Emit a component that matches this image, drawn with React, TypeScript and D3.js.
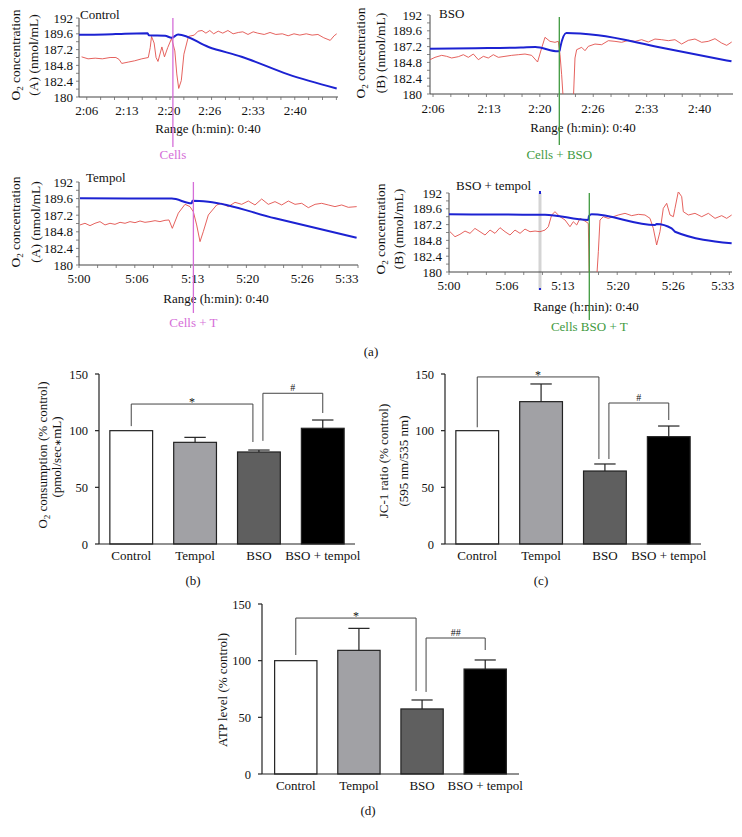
import React from "react";
import * as d3 from "d3";

const FONT = "'Liberation Serif','Times New Roman',serif";

// ---------- panel (a) : O2 traces ----------
const o2TickValues = [180, 182.4, 184.8, 187.2, 189.6, 192];
const timeLabelsEarly = ["2:06", "2:13", "2:20", "2:26", "2:33", "2:40"];
const timeLabelsLate = ["5:00", "5:06", "5:13", "5:20", "5:26", "5:33"];
const ctrlTickTimes = [1.2, 7.4, 13.9, 20.2, 26.9, 33.4];
const bsoTickTimes = [0.4, 7.8, 14.5, 21.5, 28.6, 35.6];
const tempolTickTimes = [0, 8.3, 16.3, 24.2, 32.0, 38.4];
const bsoTTickTimes = [0, 8.2, 16.1, 23.9, 31.7, 38.7];

type P = [number, number];

const ctrlBlue: P[] = [[0, 189.46], [4, 189.5], [7.1, 189.62], [10.6, 189.67], [10.8, 189.37], [13.3, 189.3], [14.3, 189.0], [15.3, 189.5], [20, 187.6], [25.1, 186.12], [32.3, 183.44], [39.8, 181.3]];
const ctrlRed: P[] = [[0.4, 186.1], [1.4, 185.8], [2.5, 185.9], [3.6, 185.8], [4.8, 186.0], [5.7, 186.0], [6.2, 185.7], [6.6, 185.1], [7.6, 185.3], [8.6, 185.5], [9.7, 185.8], [10.7, 186.0], [11.0, 187.5], [11.2, 189.2], [11.6, 188.2], [11.9, 186.0], [12.2, 185.4], [12.8, 187.6], [13.2, 186.1], [13.7, 187.5], [14.3, 188.9], [14.8, 187.0], [15.1, 183.5], [15.4, 181.3], [15.8, 182.5], [16.2, 186.5], [16.9, 189.2], [17.8, 189.4], [18.4, 190.0], [19.0, 190.1], [19.6, 189.7], [20.2, 190.1], [20.8, 189.6], [21.5, 190.0], [22.2, 189.7], [23.0, 190.1], [23.8, 189.6], [24.6, 189.8], [25.3, 189.9], [26.1, 189.5], [26.9, 189.9], [27.6, 189.7], [28.6, 189.5], [29.5, 189.8], [30.4, 189.5], [31.4, 189.6], [32.3, 189.3], [33.2, 189.6], [34.1, 189.4], [35.1, 189.6], [36.0, 189.4], [36.9, 189.5], [37.8, 189.0], [38.8, 188.6], [39.4, 189.3], [39.8, 189.6]];

const bsoBlue: P[] = [[0, 186.88], [6, 186.95], [12, 187.05], [13.9, 187.14], [16.9, 186.48], [17.1, 186.55], [17.2, 187.1], [18.0, 189.26], [22.2, 188.91], [30.1, 187.15], [39.8, 184.96]];
const bsoRed: P[] = [[0, 185.21], [0.66, 185.57], [1.54, 185.87], [2.2, 185.72], [2.86, 185.47], [3.74, 185.67], [4.4, 185.97], [5.06, 185.57], [5.72, 186.07], [6.38, 185.21], [7.04, 185.72], [7.7, 185.47], [8.36, 185.97], [9.02, 185.57], [9.9, 185.72], [10.78, 185.87], [11.66, 185.97], [12.54, 186.07], [13.42, 185.87], [14.2, 184.86], [14.74, 186.98], [15.18, 188.61], [15.84, 188.0], [16.5, 187.85], [16.94, 188.0], [17.16, 186.0], [17.38, 182.93], [17.6, 179], [18.92, 179], [19.14, 185.47], [19.36, 186.73], [20.02, 187.09], [20.46, 186.58], [20.9, 187.24], [21.78, 187.59], [22.66, 187.49], [23.54, 188.1], [24.42, 188.0], [25.3, 187.85], [26.18, 188.15], [27.06, 188.0], [27.94, 188.25], [28.82, 187.9], [29.7, 188.35], [30.58, 188.25], [31.46, 188.1], [32.34, 188.25], [33.22, 187.59], [34.1, 188.15], [34.98, 188.35], [35.86, 187.85], [36.74, 188.0], [37.62, 188.4], [38.5, 187.74], [39.17, 187.39], [39.83, 187.9]];

const tempolBlue: P[] = [[0.14, 189.64], [7, 189.62], [13.3, 189.6], [16.16, 188.92], [16.27, 189.3], [18.54, 189.15], [28.1, 186.75], [39.8, 183.95]];
const tempolRed: P[] = [[0.14, 185.79], [0.86, 186.03], [1.58, 185.69], [2.29, 186.03], [3.01, 186.27], [3.73, 185.79], [4.44, 186.03], [5.16, 185.88], [5.88, 186.17], [6.6, 186.03], [7.31, 186.27], [8.03, 186.12], [8.75, 186.36], [9.46, 186.17], [10.18, 186.27], [10.9, 186.41], [11.61, 186.27], [12.33, 186.46], [12.9, 186.51], [13.38, 185.3], [14.24, 187.5], [15.2, 188.77], [15.91, 188.44], [16.39, 187.71], [16.87, 185.79], [17.35, 183.38], [17.82, 184.82], [18.54, 187.23], [19.74, 188.68], [20.46, 188.92], [21.4, 188.44], [22.37, 189.06], [23.32, 188.77], [24.27, 189.25], [25.23, 188.68], [26.19, 189.54], [27.14, 188.77], [28.1, 189.16], [29.06, 188.68], [30.01, 189.25], [30.97, 188.77], [31.93, 188.92], [32.88, 188.29], [33.84, 188.77], [34.79, 188.92], [35.74, 188.68], [36.7, 188.44], [37.66, 188.68], [38.61, 188.34], [39.81, 188.44]];

const bsoTBlue: P[] = [[0, 188.76], [7, 188.72], [13.57, 188.7], [19.69, 187.9], [19.78, 188.5], [20.17, 188.76], [29.12, 187.14], [29.35, 187.3], [31.47, 186.63], [31.94, 186.12], [39.95, 184.35]];
const bsoTRed: P[] = [[0.14, 186.12], [0.85, 185.36], [1.55, 185.72], [2.26, 186.22], [2.97, 185.87], [3.67, 186.62], [4.38, 186.12], [5.09, 185.62], [5.8, 186.37], [6.5, 185.87], [7.21, 186.73], [7.92, 186.12], [8.62, 185.62], [9.33, 186.37], [10.04, 185.87], [10.74, 186.52], [11.45, 186.12], [12.16, 186.22], [12.86, 186.12], [13.57, 186.37], [14.04, 186.88], [14.51, 188.66], [14.98, 189.16], [15.69, 188.4], [16.4, 187.9], [17.1, 186.88], [17.57, 187.64], [18.05, 187.14], [18.52, 188.15], [19.22, 187.74], [19.69, 187.39], [19.83, 179], [20.87, 179], [21.11, 183.08], [21.34, 187.9], [21.81, 188.4], [22.52, 188.15], [23.23, 188.4], [23.93, 188.66], [24.88, 188.91], [25.82, 188.56], [26.76, 188.76], [27.7, 188.66], [28.41, 188.15], [28.88, 186.62], [29.35, 184.1], [29.82, 186.12], [30.29, 189.67], [30.77, 190.43], [31.24, 188.66], [31.71, 188.4], [31.94, 189.67], [32.41, 192.2], [32.89, 191.44], [33.12, 189.16], [33.83, 188.66], [34.77, 188.91], [35.72, 188.4], [36.66, 188.91], [37.6, 188.15], [38.54, 188.56], [39.25, 188.15], [39.95, 188.66]];

// ---------- bar panels ----------
const barCategories = ["Control", "Tempol", "BSO", "BSO + tempol"];
const barTicks = [0, 50, 100, 150];
const o2ConsMean = [100, 89.7, 81.2, 102.1];
const o2ConsErr = [0, 4.4, 1.7, 7.3];
const jc1Mean = [100, 125.6, 64.4, 94.7];
const jc1Err = [0, 15.6, 6.2, 9.4];
const atpMean = [100, 109.1, 57.4, 92.6];
const atpErr = [0, 19.4, 7.9, 8.0];

type Bracket = { from: number; to: number; top: number; leftEnd: number; rightEnd: number; label: string };
const bracketsB: Bracket[] = [
  { from: 0, to: 2, top: 123.5, leftEnd: 104, rightEnd: 90, label: "*" },
  { from: 2, to: 3, top: 133, leftEnd: 91, rightEnd: 115.6, label: "#" },
];
const bracketsC: Bracket[] = [
  { from: 0, to: 2, top: 147.4, leftEnd: 103, rightEnd: 75, label: "*" },
  { from: 2, to: 3, top: 124.4, leftEnd: 75, rightEnd: 109.4, label: "#" },
];
const bracketsD: Bracket[] = [
  { from: 0, to: 2, top: 137.6, leftEnd: 105, rightEnd: 73.2, label: "*" },
  { from: 2, to: 3, top: 120, leftEnd: 72.4, rightEnd: 109.4, label: "##" },
];

const barFills = ["#ffffff", "#a1a1a5", "#5f5f5f", "#000000"];
const BLUE = "#1c22d2";
const RED = "#e2504c";
const MAGENTA = "#d56ed8";
const GREEN = "#3f9a3f";

function O2Label({ x, y, text }: { x: number; y: number; text: string }) {
  return (
    <text transform={`translate(${x},${y}) rotate(-90)`} textAnchor="middle" fontSize={13.5}>
      O<tspan fontSize={9} dy={3}>2</tspan>
      <tspan dy={-3}>{" " + text}</tspan>
    </text>
  );
}

type TraceProps = {
  id: string;
  left: number; right: number; top: number; bottom: number;
  title: string; titleX: number; titleY: number;
  yLab1X: number; yLab2X: number; yLabY: number; yLab2: string;
  tickTimes: number[]; tickLabels: string[]; tickLabelY: number; yLabelRight: number;
  blue: P[]; red: P[];
  markerT: number; markerColor: string; markerTop: number; markerBottom: number;
  markerLabel: string; markerLabelY: number;
  rangeX: number; rangeY: number;
  grayT?: number; grayBottom?: number;
};

function TracePanel(p: TraceProps) {
  const x = d3.scaleLinear().domain([0, 40]).range([p.left, p.right]);
  const y = d3.scaleLinear().domain([180, 192]).range([p.bottom, p.top]);
  const line = d3.line<P>().x((d) => x(d[0])).y((d) => y(d[1]));
  const blueLine = d3.line<P>().x((d) => x(d[0])).y((d) => y(d[1])).curve(d3.curveMonotoneX);
  const clipId = `clip-${p.id}`;
  const step = (p.tickTimes[4] - p.tickTimes[0]) / 12;
  const minor: number[] = [];
  for (let t = p.tickTimes[0] % step; t <= 40.01; t += step) minor.push(t);
  const yMinor = d3.range(11).map((i) => 180 + i * 1.2);
  const mx = x(p.markerT);
  return (
    <g>
      <defs>
        <clipPath id={clipId}>
          <rect x={p.left} y={p.top - 1} width={p.right - p.left} height={p.bottom - p.top + 1} />
        </clipPath>
      </defs>
      {p.grayT !== undefined && (
        <g>
          <rect x={x(p.grayT) - 1.5} y={p.top} width={3} height={(p.grayBottom ?? p.bottom) - p.top} fill="#d4d4d4" />
          <rect x={x(p.grayT) - 1} y={p.top - 2} width={2} height={3} fill={BLUE} />
          <rect x={x(p.grayT) - 1} y={(p.grayBottom ?? p.bottom) - 2} width={2} height={2} fill={BLUE} />
        </g>
      )}
      <line x1={p.left} x2={p.left} y1={p.top} y2={p.bottom} stroke="#444" strokeWidth={1} />
      <line x1={p.left} x2={p.right} y1={p.bottom} y2={p.bottom} stroke="#444" strokeWidth={1} />
      {yMinor.map((v, i) => (
        <line key={"ym" + i} x1={p.left - 3} x2={p.left} y1={y(v)} y2={y(v)} stroke="#666" strokeWidth={0.8} />
      ))}
      {minor.map((t, i) => (
        <line key={"xm" + i} x1={x(t)} x2={x(t)} y1={p.bottom} y2={p.bottom + 3} stroke="#666" strokeWidth={0.8} />
      ))}
      {o2TickValues.map((v) => (
        <text key={"yl" + v} x={p.yLabelRight} y={y(v) + 4.5} textAnchor="end" fontSize={13}>
          {v}
        </text>
      ))}
      {p.tickTimes.map((t, i) => (
        <text key={"xl" + i} x={x(t)} y={p.tickLabelY} textAnchor="middle" fontSize={13}>
          {p.tickLabels[i]}
        </text>
      ))}
      <g clipPath={`url(#${clipId})`}>
        <path d={line(p.red) ?? ""} fill="none" stroke={RED} strokeWidth={0.9} />
        <path d={blueLine(p.blue) ?? ""} fill="none" stroke={BLUE} strokeWidth={2} />
      </g>
      <text x={p.titleX} y={p.titleY} fontSize={13}>{p.title}</text>
      <O2Label x={p.yLab1X} y={p.yLabY} text="concentration" />
      <text transform={`translate(${p.yLab2X},${p.yLabY}) rotate(-90)`} textAnchor="middle" fontSize={13.5}>
        {p.yLab2}
      </text>
      <text x={p.rangeX} y={p.rangeY} textAnchor="middle" fontSize={13}>Range (h:min): 0:40</text>
      <line x1={mx} x2={mx} y1={p.markerTop} y2={p.markerBottom} stroke={p.markerColor} strokeWidth={1.3} />
      <text x={mx} y={p.markerLabelY} textAnchor="middle" fontSize={13} fill={p.markerColor}>
        {p.markerLabel}
      </text>
    </g>
  );
}

type BarProps = {
  x0: number; x1: number; yZero: number; yTop: number;
  means: number[]; errs: number[]; brackets: Bracket[];
  tickLabelRight: number; catLabelY: number;
  panelLabel: string; panelLabelX: number; panelLabelY: number;
  yLabels: React.ReactNode;
  padOuter: number;
};

function BarPanel(p: BarProps) {
  const x = d3.scaleBand<string>().domain(barCategories).range([p.x0, p.x1]).paddingInner(0.33).paddingOuter(p.padOuter);
  const y = d3.scaleLinear().domain([0, 150]).range([p.yZero, p.yTop]);
  const cx = (i: number) => (x(barCategories[i]) ?? 0) + x.bandwidth() / 2;
  const capHalf = x.bandwidth() / 4;
  return (
    <g>
      {barCategories.map((c, i) => {
        const bx = x(c) ?? 0;
        return (
          <g key={c}>
            <rect x={bx} y={y(p.means[i])} width={x.bandwidth()} height={p.yZero - y(p.means[i])} fill={barFills[i]} stroke="#222" strokeWidth={1.2} />
            {p.errs[i] > 0 && (
              <g stroke="#222" strokeWidth={1.2}>
                <line x1={cx(i)} x2={cx(i)} y1={y(p.means[i])} y2={y(p.means[i] + p.errs[i])} />
                <line x1={cx(i) - capHalf} x2={cx(i) + capHalf} y1={y(p.means[i] + p.errs[i])} y2={y(p.means[i] + p.errs[i])} />
              </g>
            )}
            <text x={cx(i)} y={p.catLabelY} textAnchor="middle" fontSize={13}>{c}</text>
          </g>
        );
      })}
      <line x1={p.x0} x2={p.x0} y1={y(0)} y2={y(150)} stroke="#222" strokeWidth={1.2} />
      <line x1={p.x0} x2={p.x1} y1={y(0)} y2={y(0)} stroke="#222" strokeWidth={1.2} />
      {barTicks.map((t) => (
        <g key={t}>
          <line x1={p.x0 - 4} x2={p.x0} y1={y(t)} y2={y(t)} stroke="#222" strokeWidth={1.2} />
          <text x={p.tickLabelRight} y={y(t) + 4.5} textAnchor="end" fontSize={12.5}>{t}</text>
        </g>
      ))}
      {p.brackets.map((b, i) => {
        const lx = cx(b.from) + (i === 0 ? 0 : 4);
        const rx = cx(b.to) + (i === 0 ? -6 : 0);
        const ty = y(b.top);
        const isStar = b.label === "*";
        return (
          <g key={i}>
            <path d={`M${lx},${y(b.leftEnd)}V${ty}H${rx}V${y(b.rightEnd)}`} fill="none" stroke="#444" strokeWidth={1} />
            <text x={(lx + rx) / 2} y={isStar ? ty + 2 : ty - 2.5} textAnchor="middle" fontSize={isStar ? 12 : 10}>
              {b.label}
            </text>
          </g>
        );
      })}
      {p.yLabels}
      <text x={p.panelLabelX} y={p.panelLabelY} textAnchor="middle" fontSize={13}>{p.panelLabel}</text>
    </g>
  );
}

export default function App() {
  return (
    <svg width={742} height={837} style={{ position: "absolute", left: 0, top: 0, background: "#fff" }} fontFamily={FONT} fill="#111">
      <rect x={0} y={0} width={742} height={837} fill="#fff" />
      <TracePanel id="a1" left={79} right={338} top={18} bottom={97}
        title="Control" titleX={80} titleY={18.5}
        yLab1X={19.5} yLab2X={37.5} yLabY={55} yLab2="(A) (nmol/mL)"
        tickTimes={ctrlTickTimes} tickLabels={timeLabelsEarly} tickLabelY={114.5} yLabelRight={73}
        blue={ctrlBlue} red={ctrlRed}
        markerT={14.5} markerColor={MAGENTA} markerTop={18} markerBottom={147}
        markerLabel="Cells" markerLabelY={158.5} rangeX={208} rangeY={132.5} />
      <TracePanel id="a2" left={430} right={733} top={15} bottom={94}
        title="BSO" titleX={439} titleY={18}
        yLab1X={364.5} yLab2X={384.5} yLabY={53} yLab2="(B) (nmol/mL)"
        tickTimes={bsoTickTimes} tickLabels={timeLabelsEarly} tickLabelY={113} yLabelRight={422}
        blue={bsoBlue} red={bsoRed}
        markerT={17.07} markerColor={GREEN} markerTop={17} markerBottom={145}
        markerLabel="Cells + BSO" markerLabelY={158.5} rangeX={583} rangeY={131.5} />
      <TracePanel id="a3" left={79} right={358} top={182} bottom={265}
        title="Tempol" titleX={86} titleY={182}
        yLab1X={19.5} yLab2X={39.5} yLabY={222} yLab2="(A) (nmol/mL)"
        tickTimes={tempolTickTimes} tickLabels={timeLabelsLate} tickLabelY={283} yLabelRight={73}
        blue={tempolBlue} red={tempolRed}
        markerT={16.4} markerColor={MAGENTA} markerTop={182} markerBottom={313}
        markerLabel="Cells + T" markerLabelY={327} rangeX={216} rangeY={302.5} />
      <TracePanel id="a4" left={449} right={732} top={193} bottom={272}
        title="BSO + tempol" titleX={456} titleY={189.5}
        yLab1X={384.5} yLab2X={402.5} yLabY={229} yLab2="(B) (nmol/mL)"
        tickTimes={bsoTTickTimes} tickLabels={timeLabelsLate} tickLabelY={289.5} yLabelRight={442}
        blue={bsoTBlue} red={bsoTRed}
        markerT={19.83} markerColor={GREEN} markerTop={193} markerBottom={320}
        markerLabel="Cells BSO + T" markerLabelY={331} rangeX={586} rangeY={310.5}
        grayT={12.86} grayBottom={290} />
      <text x={371} y={356} textAnchor="middle" fontSize={13}>(a)</text>

      <BarPanel x0={99} x1={355} yZero={544} yTop={374} means={o2ConsMean} errs={o2ConsErr} brackets={bracketsB}
        tickLabelRight={88} catLabelY={559.5} panelLabel="(b)" panelLabelX={193} panelLabelY={585} padOuter={0.17}
        yLabels={
          <g>
            <text transform="translate(46.5,455) rotate(-90)" textAnchor="middle" fontSize={13}>
              O<tspan fontSize={9} dy={3}>2</tspan><tspan dy={-3}> consumption (% control)</tspan>
            </text>
            <text transform="translate(60.5,457) rotate(-90)" textAnchor="middle" fontSize={13}>
              (pmol/sec<tspan fontSize={9} fontFamily="DejaVu Sans">∗</tspan>mL)
            </text>
          </g>
        } />
      <BarPanel x0={445} x1={701} yZero={544} yTop={374} means={jc1Mean} errs={jc1Err} brackets={bracketsC}
        tickLabelRight={434} catLabelY={559.5} panelLabel="(c)" panelLabelX={541} panelLabelY={585} padOuter={0.17}
        yLabels={
          <g>
            <text transform="translate(387.5,461) rotate(-90)" textAnchor="middle" fontSize={13}>JC-1 ratio (% control)</text>
            <text transform="translate(407.5,461) rotate(-90)" textAnchor="middle" fontSize={13}>(595 nm/535 nm)</text>
          </g>
        } />
      <BarPanel x0={262} x1={519} yZero={774} yTop={604} means={atpMean} errs={atpErr} brackets={bracketsD}
        tickLabelRight={251} catLabelY={789.5} panelLabel="(d)" panelLabelX={368} panelLabelY={814.5} padOuter={0.2}
        yLabels={
          <text transform="translate(226.5,690) rotate(-90)" textAnchor="middle" fontSize={13}>ATP level (% control)</text>
        } />
    </svg>
  );
}
